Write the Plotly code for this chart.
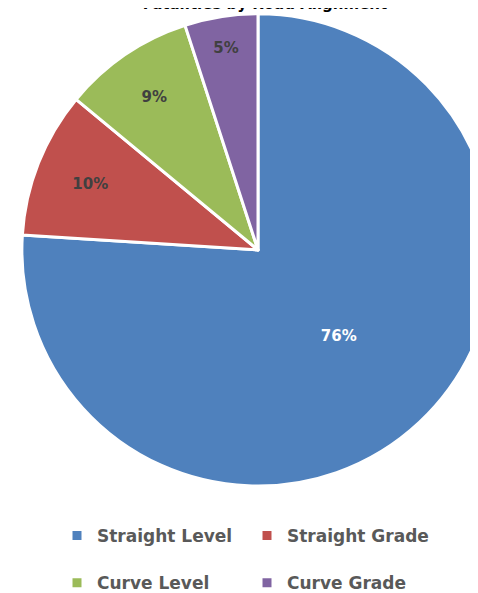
import plotly.graph_objects as go

labels = ["Straight Level", "Straight Grade", "Curve Level", "Curve Grade"]
values = [76, 10, 9, 5]
colors = ["#4F81BD", "#C0504D", "#9BBB59", "#8064A2"]
text_colors = ["#FFFFFF", "#404040", "#404040", "#404040"]
title_text = "Fatalities by Road Alignment"

# first legend row gets an extra blank line to space the two rows apart
legend_names = [lab + "<br>&nbsp;" if i < 2 else lab for i, lab in enumerate(labels)]

fig = go.Figure(
    go.Pie(
        labels=legend_names,
        values=values,
        sort=False,
        direction="clockwise",
        rotation=0,
        marker=dict(colors=colors, line=dict(color="#FFFFFF", width=3)),
        textinfo="percent",
        texttemplate="%{percent:.0%}",
        textposition="inside",
        insidetextorientation="horizontal",
        insidetextfont=dict(color=text_colors, size=15, family="DejaVu Sans", weight="bold"),
        domain=dict(x=[0.02, 0.98], y=[0.18, 0.99]),
        hoverinfo="percent",
    )
)

fig.update_layout(
    width=500,
    height=593,
    margin=dict(l=0, r=0, t=0, b=0),
    paper_bgcolor="#FFFFFF",
    plot_bgcolor="#FFFFFF",
    title=dict(
        text=title_text,
        x=0.514,
        xanchor="center",
        yref="container",
        y=0.998,
        yanchor="bottom",
        font=dict(family="DejaVu Sans", size=15, color="#000000", weight="bold"),
    ),
    uniformtext=dict(minsize=15, mode="show"),
    legend=dict(
        orientation="h",
        x=0.478,
        xanchor="center",
        y=0.125,
        yanchor="top",
        entrywidth=145,
        entrywidthmode="pixels",
        font=dict(family="DejaVu Sans", size=17, color="#595959", weight="bold"),
        valign="top",
    ),
)

fig.write_html("out.html")
